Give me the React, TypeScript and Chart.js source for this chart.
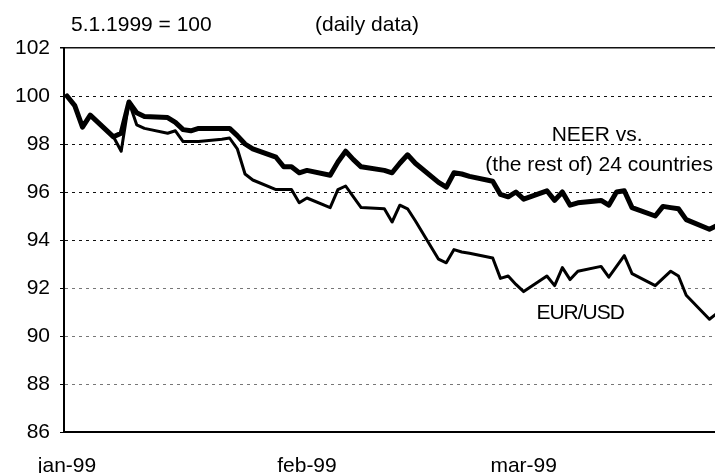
import { useEffect, useRef } from 'react';
import { Chart, registerables } from 'chart.js';

Chart.register(...registerables);

// Trading days, counted in calendar days from 5 Jan 1999 (index base = 100)
const tradingDays = [
  0, 1, 2, 3, 6, 7, 8, 9, 10, 13, 14, 15, 16, 17, 20, 21, 22, 23, 24, 27, 28, 29, 30, 31,
  34, 35, 36, 37, 38, 41, 42, 43, 44, 45, 48, 49, 50, 51, 52, 55, 56, 57, 58, 59,
  62, 63, 64, 65, 66, 69, 70, 71, 72, 73, 76, 77, 78, 79, 80, 83, 84,
];

const neerValues = [
  100.0, 99.6, 98.7, 99.2, 98.3, 98.45, 99.75, 99.3, 99.15, 99.1, 98.9, 98.6, 98.55, 98.65,
  98.65, 98.65, 98.35, 98.0, 97.8, 97.45, 97.05, 97.05, 96.8, 96.9,
  96.7, 97.25, 97.7, 97.35, 97.05, 96.9, 96.8, 97.2, 97.55, 97.2, 96.4, 96.2, 96.8, 96.75, 96.65,
  96.45, 95.9, 95.8, 96.0, 95.7, 96.05, 95.65, 96.0, 95.45, 95.55, 95.65, 95.45, 96.0, 96.05, 95.35,
  95.0, 95.4, 95.35, 95.3, 94.85, 94.45, 94.6,
];

const eurUsdValues = [
  100.0, 99.6, 98.7, 99.2, 98.3, 97.7, 99.75, 98.8, 98.65, 98.45, 98.55, 98.1, 98.1, 98.1,
  98.2, 98.25, 97.8, 96.75, 96.5, 96.1, 96.1, 96.1, 95.55, 95.75,
  95.35, 96.1, 96.25, 95.8, 95.35, 95.3, 94.75, 95.45, 95.3, 94.8, 93.2, 93.05, 93.6, 93.5, 93.45,
  93.25, 92.4, 92.5, 92.15, 91.85, 92.5, 92.1, 92.85, 92.35, 92.7, 92.9, 92.45, 92.9, 93.35, 92.6,
  92.1, 92.4, 92.7, 92.5, 91.7, 90.7, 90.95,
];

const monthTickDays = [0, 31, 59];
const monthTickLabels = ['jan-99', 'feb-99', 'mar-99'];

const FONT = '"Liberation Sans", Arial, Helvetica, sans-serif';

const textPlugin = {
  id: 'textPlugin',
  afterDraw(chart: any) {
    const { ctx, scales } = chart;
    const x = scales.x;
    const y = scales.y;
    ctx.save();
    ctx.fillStyle = '#000';
    ctx.font = `21px ${FONT}`;
    ctx.textBaseline = 'middle';
    ctx.textAlign = 'left';
    ctx.fillText('5.1.1999 = 100', 71, 25);
    ctx.fillText('(daily data)', 315, 25);

    ctx.textAlign = 'center';
    ctx.fillText('NEER vs.', x.getPixelForValue(68.5), y.getPixelForValue(98.38));
    ctx.textAlign = 'right';
    ctx.fillText('(the rest of) 24 countries', x.getPixelForValue(83.45), y.getPixelForValue(97.12));
    ctx.textAlign = 'center';
    (ctx as any).letterSpacing = '-1px';
    ctx.fillText('EUR/USD', x.getPixelForValue(66.3), y.getPixelForValue(90.96));
    ctx.restore();
  },
};

export default function App() {
  const canvasRef = useRef<HTMLCanvasElement | null>(null);

  useEffect(() => {
    document.body.style.margin = '0';
    const canvas = canvasRef.current;
    if (!canvas) return;

    const chart = new Chart(canvas, {
      type: 'line',
      data: {
        datasets: [
          {
            label: 'NEER',
            data: tradingDays.map((d, i) => ({ x: d, y: neerValues[i] })),
            borderColor: '#000',
            borderWidth: 5,
            pointRadius: 0,
            tension: 0,
            borderJoinStyle: 'round',
            borderCapStyle: 'round',
          },
          {
            label: 'EUR/USD',
            data: tradingDays.map((d, i) => ({ x: d, y: eurUsdValues[i] })),
            borderColor: '#000',
            borderWidth: 3,
            pointRadius: 0,
            tension: 0,
            borderJoinStyle: 'round',
            borderCapStyle: 'round',
          },
        ],
      },
      options: {
        responsive: false,
        animation: false,
        layout: { padding: { top: 48, right: 0, left: 0, bottom: 0 } },
        plugins: {
          legend: { display: false },
          tooltip: { enabled: false },
          title: { display: false },
        },
        scales: {
          x: {
            type: 'linear',
            min: -0.39,
            max: 83.72,
            afterBuildTicks: (scale: any) => {
              scale.ticks = monthTickDays.map((v) => ({ value: v }));
            },
            afterFit: (scale: any) => {
              scale.height = 41;
            },
            grid: { display: false },
            border: { display: true, color: '#000', width: 2 },
            ticks: {
              autoSkip: false,
              maxRotation: 0,
              padding: 14,
              color: '#000',
              font: { family: FONT, size: 21 },
              callback: (value: any) => {
                const i = monthTickDays.indexOf(Number(value));
                return i >= 0 ? monthTickLabels[i] : '';
              },
            },
          },
          y: {
            min: 86,
            max: 102,
            afterFit: (scale: any) => {
              scale.width = 64;
            },
            grid: {
              color: (c: any) => (c.tick && c.tick.value <= 92 && c.tick.value > 86 ? '#777' : '#111'),
              lineWidth: (c: any) => (c.tick && c.tick.value === 102 ? 1.5 : 1),
              tickLength: 4,
              tickColor: '#000',
              tickBorderDash: [],
            },
            border: {
              display: true,
              color: '#000',
              width: 2,
              dash: (c: any) => (c.tick && c.tick.value === 102 ? [] : [3, 4]),
            },
            ticks: {
              stepSize: 2,
              padding: 10,
              color: '#000',
              font: { family: FONT, size: 21 },
            },
          },
        },
      },
      plugins: [textPlugin],
    } as any);

    return () => {
      chart.destroy();
    };
  }, []);

  return (
    <div style={{ width: 715, height: 473, background: '#fff' }}>
      <canvas ref={canvasRef} width={715} height={473} />
    </div>
  );
}
